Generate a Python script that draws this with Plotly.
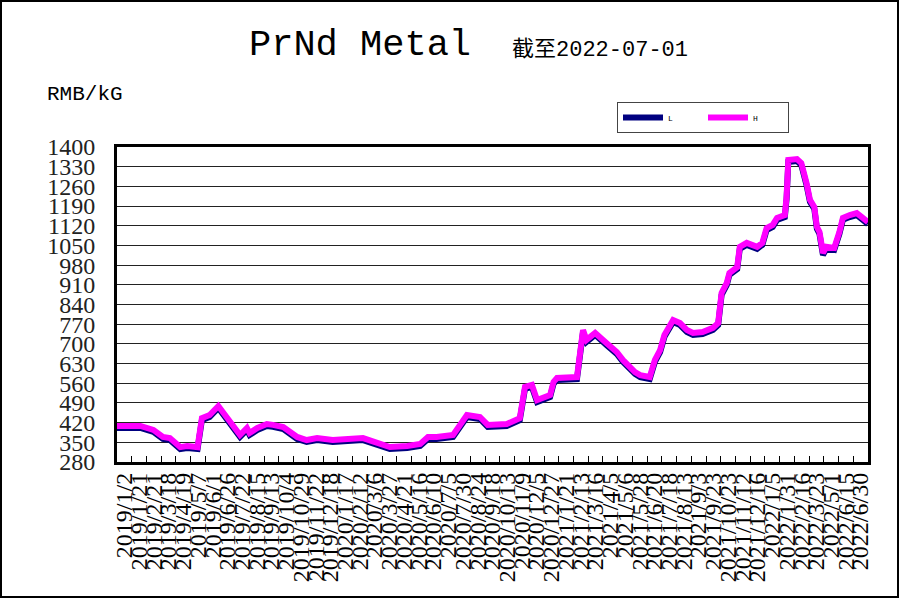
import plotly.graph_objects as go

# ---- data ----
tick_labels = [
    "2019/1/2", "2019/1/21", "2019/2/21", "2019/3/18", "2019/4/19", "2019/5/7",
    "2019/6/1", "2019/6/26", "2019/7/22", "2019/8/15", "2019/9/13", "2019/10/4",
    "2019/10/29", "2019/11/22", "2019/12/18", "2020/1/17", "2020/2/12", "2020/3/6",
    "2020/3/27", "2020/4/21", "2020/5/16", "2020/6/10", "2020/7/5", "2020/7/30",
    "2020/8/24", "2020/9/18", "2020/10/13", "2020/11/9", "2020/12/5", "2020/12/27",
    "2021/1/21", "2021/2/13", "2021/3/16", "2021/4/5", "2021/5/6", "2021/5/28",
    "2021/6/20", "2021/7/18", "2021/8/13", "2021/9/3", "2021/9/23", "2021/10/23",
    "2021/11/12", "2021/12/16", "2022/1/5", "2022/1/31", "2022/2/16", "2022/3/23",
    "2022/5/1", "2022/6/15", "2022/6/30",
]

# trading-day index of each sampled point
day_idx = [0, 27, 42, 53, 61, 73, 81, 93, 98, 107, 117, 125, 130, 142, 150, 153, 162,
           173, 180, 192, 208, 219, 231, 249, 284, 300, 315, 335, 350, 359, 369, 388,
           404, 419, 428, 450, 465, 471, 479, 485, 500, 504, 508, 531, 538, 542, 552,
           565, 577, 584, 592, 598, 604, 615, 621, 627, 632, 638, 642, 650, 658, 665,
           676, 688, 694, 698, 704, 707, 716, 719, 727, 739, 745, 750, 757, 762, 771,
           773, 775, 785, 790, 796, 800, 805, 808, 811, 815, 819, 828, 834, 838, 846,
           854, 861, 867]

price_h = [408, 408, 394, 369, 365, 333, 337, 333, 436, 447, 479, 447, 429, 376, 401, 383,
           401, 415, 412, 404, 369, 358, 365, 358, 365, 348, 333, 337, 344, 369, 369, 376,
           447, 440, 412, 415, 436, 547, 554, 500, 518, 565, 579, 582, 749, 714, 739, 703,
           671, 643, 614, 600, 589, 582, 643, 678, 732, 760, 785, 774, 749, 739, 742, 757,
           774, 881, 917, 952, 973, 1045, 1059, 1045, 1059, 1112, 1123, 1148, 1158, 1222,
           1354, 1357, 1343, 1272, 1212, 1187, 1116, 1098, 1023, 1045, 1041, 1098, 1148,
           1158, 1165, 1148, 1133]

price_l = [401, 401, 387, 362, 358, 326, 330, 326, 429, 440, 472, 440, 422, 369, 394, 376,
           394, 408, 405, 397, 362, 351, 358, 351, 358, 341, 326, 330, 337, 362, 362, 369,
           440, 433, 405, 408, 429, 540, 547, 493, 511, 558, 572, 575, 742, 707, 732, 696,
           664, 636, 607, 593, 582, 575, 636, 671, 725, 753, 778, 767, 742, 732, 735, 750,
           767, 874, 910, 945, 966, 1038, 1052, 1038, 1052, 1105, 1116, 1141, 1151, 1215,
           1347, 1350, 1336, 1265, 1205, 1180, 1109, 1091, 1016, 1038, 1034, 1091, 1141,
           1151, 1158, 1141, 1126]

total_days = 867
y_min, y_max, y_step = 280, 1400, 70

# ---- figure ----
W, H = 900, 599
ML, MR, MT, MB = 117, 32, 147, 137
pw, ph = W - ML - MR, H - MT - MB

slot = total_days / len(tick_labels)
bound_vals = [i * slot for i in range(len(tick_labels) + 1)]
center_vals = [(i + 0.5) * slot for i in range(len(tick_labels))]

fig = go.Figure()
fig.add_trace(go.Scatter(x=day_idx, y=price_l, name="L", mode="lines",
                         line=dict(color="#000080", width=6)))
fig.add_trace(go.Scatter(x=day_idx, y=price_h, name="H", mode="lines",
                         line=dict(color="#FF00FF", width=6)))
fig.add_trace(go.Scatter(x=[None], y=[None], xaxis="x2", showlegend=False,
                         hoverinfo="skip"))

def px_x(px):
    return (px - ML) / pw

def px_y(py):
    return (H - MB - py) / ph

fig.update_layout(
    width=W, height=H,
    margin=dict(l=ML, r=MR, t=MT, b=MB, pad=0),
    paper_bgcolor="white", plot_bgcolor="white",
    showlegend=True,
    legend=dict(orientation="h", x=px_x(617), y=px_y(102), xanchor="left", yanchor="top",
                bordercolor="#444", borderwidth=1, bgcolor="white",
                font=dict(family="Liberation Mono", size=8, color="black"),
                entrywidth=30, entrywidthmode="pixels", tracegroupgap=0,
                itemwidth=40),
    xaxis=dict(range=[0, total_days], tickmode="array", tickvals=bound_vals,
               showticklabels=False, ticks="inside", ticklen=6, tickcolor="black",
               tickwidth=1, showgrid=False, zeroline=False, showline=True,
               linecolor="black", linewidth=3, mirror=True),
    xaxis2=dict(range=[0, total_days], overlaying="x", anchor="y", side="bottom",
                tickmode="array", tickvals=center_vals, ticktext=tick_labels,
                tickangle=-90, ticks="", showgrid=False, zeroline=False,
                showline=False, ticklabelstandoff=5,
                tickfont=dict(family="Liberation Serif", size=24, color="black")),
    yaxis=dict(range=[y_min, y_max], tickmode="linear", tick0=y_min, dtick=y_step,
               showgrid=True, gridcolor="#222", gridwidth=1, zeroline=False,
               showline=True, linecolor="black", linewidth=3, mirror=True,
               ticks="", ticklabelstandoff=14,
               tickfont=dict(family="Liberation Serif", size=24, color="#222")),
    annotations=[
        dict(text="PrNd Metal", xref="paper", yref="paper", x=px_x(360), y=px_y(45),
             xanchor="center", yanchor="middle", showarrow=False,
             font=dict(family="Liberation Mono", size=37, color="black")),
        dict(text="截至2022-07-01", xref="paper", yref="paper", x=px_x(510), y=px_y(50),
             xanchor="left", yanchor="middle", showarrow=False,
             font=dict(family="Liberation Mono, Noto Sans CJK SC", size=22, color="black")),
        dict(text="RMB/kG", xref="paper", yref="paper", x=px_x(45), y=px_y(95),
             xanchor="left", yanchor="middle", showarrow=False,
             font=dict(family="Liberation Mono", size=21, color="black")),
    ],
    shapes=[
        dict(type="rect", xref="paper", yref="paper", x0=px_x(1), x1=px_x(898),
             y0=px_y(597), y1=px_y(1), line=dict(color="black", width=2),
             fillcolor="rgba(0,0,0,0)", layer="below"),
    ],
)

fig.write_html("out.html", config={"displayModeBar": False},
               post_script="document.body.style.margin='0';document.body.style.padding='0';")
